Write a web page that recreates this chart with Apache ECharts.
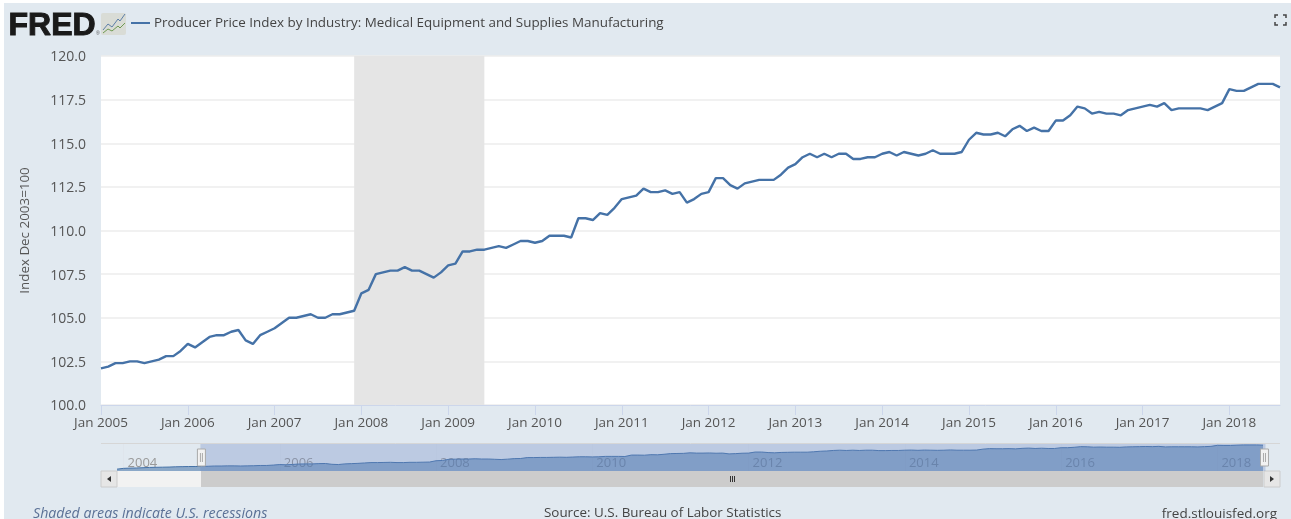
<!DOCTYPE html>
<html>
<head>
<meta charset="utf-8">
<title>Producer Price Index by Industry: Medical Equipment and Supplies Manufacturing</title>
<style>
html, body { margin: 0; padding: 0; background: #fff; overflow: hidden; }
#bg { position: absolute; left: 4px; top: 3px; width: 1287px; height: 516px; background: #e1e9f0; }
#main { position: absolute; left: 0; top: 0; width: 1291px; height: 519px; }
</style>
<script src="https://cdn.jsdelivr.net/npm/echarts@6/dist/echarts.min.js"></script>
</head>
<body>
<div id="bg"></div>
<div id="main"></div>
<script>
var month_names = ["Jan", "Feb", "Mar", "Apr", "May", "Jun", "Jul", "Aug", "Sep", "Oct", "Nov", "Dec"];

// only shown in the navigator, Dec 2003 - Dec 2004
var early_values = [100.0, 100.6, 100.8, 100.9, 101.1, 101.3, 101.4, 101.5, 101.6, 101.8, 101.9, 102.0, 102.0];

// Jan 2005 - Aug 2018, monthly
var ppi_2005 = [102.1, 102.2, 102.4, 102.4, 102.5, 102.5, 102.4, 102.5, 102.6, 102.8, 102.8, 103.1];
var ppi_2006 = [103.5, 103.3, 103.6, 103.9, 104.0, 104.0, 104.2, 104.3, 103.7, 103.5, 104.0, 104.2];
var ppi_2007 = [104.4, 104.7, 105.0, 105.0, 105.1, 105.2, 105.0, 105.0, 105.2, 105.2, 105.3, 105.4];
var ppi_2008 = [106.4, 106.6, 107.5, 107.6, 107.7, 107.7, 107.9, 107.7, 107.7, 107.5, 107.3, 107.6];
var ppi_2009 = [108.0, 108.1, 108.8, 108.8, 108.9, 108.9, 109.0, 109.1, 109.0, 109.2, 109.4, 109.4];
var ppi_2010 = [109.3, 109.4, 109.7, 109.7, 109.7, 109.6, 110.7, 110.7, 110.6, 111.0, 110.9, 111.3];
var ppi_2011 = [111.8, 111.9, 112.0, 112.4, 112.2, 112.2, 112.3, 112.1, 112.2, 111.6, 111.8, 112.1];
var ppi_2012 = [112.2, 113.0, 113.0, 112.6, 112.4, 112.7, 112.8, 112.9, 112.9, 112.9, 113.2, 113.6];
var ppi_2013 = [113.8, 114.2, 114.4, 114.2, 114.4, 114.2, 114.4, 114.4, 114.1, 114.1, 114.2, 114.2];
var ppi_2014 = [114.4, 114.5, 114.3, 114.5, 114.4, 114.3, 114.4, 114.6, 114.4, 114.4, 114.4, 114.5];
var ppi_2015 = [115.2, 115.6, 115.5, 115.5, 115.6, 115.4, 115.8, 116.0, 115.7, 115.9, 115.7, 115.7];
var ppi_2016 = [116.3, 116.3, 116.6, 117.1, 117.0, 116.7, 116.8, 116.7, 116.7, 116.6, 116.9, 117.0];
var ppi_2017 = [117.1, 117.2, 117.1, 117.3, 116.9, 117.0, 117.0, 117.0, 117.0, 116.9, 117.1, 117.3];
var ppi_2018 = [118.1, 118.0, 118.0, 118.2, 118.4, 118.4, 118.4, 118.2];

var ppi_values = early_values.concat(ppi_2005, ppi_2006, ppi_2007, ppi_2008, ppi_2009, ppi_2010, ppi_2011,
    ppi_2012, ppi_2013, ppi_2014, ppi_2015, ppi_2016, ppi_2017, ppi_2018);

// category labels, "Dec 2003" onwards
var months = [];
for (var i = 0; i < ppi_values.length; i++) {
    var m = (i + 11) % 12;
    var y = 2003 + Math.floor((i + 11) / 12);
    months.push(month_names[m] + " " + y);
}

var view_start = "Jan 2005";
var view_end = "Aug 2018";
var recession = ["Dec 2007", "Jun 2009"];

var y_min = 100, y_max = 120, y_step = 2.5;
var nav_min = 98.6, nav_max = 119.1;

var font = '"Open Sans", sans-serif';
var is_jan = function (index, value) { return value.indexOf("Jan") === 0; };
var is_even_jan = function (index, value) {
    return value.indexOf("Jan") === 0 && parseInt(value.slice(4)) % 2 === 0;
};

var chart = echarts.init(document.getElementById("main"));

var option = {
    animation: false,
    grid: [
        { left: 101, right: 11, top: 56, height: 349, show: true, backgroundColor: "#fff", borderWidth: 0 },
        { left: 117, width: 1146, top: 444, height: 27 }
    ],
    xAxis: [
        {
            type: "category",
            gridIndex: 0,
            data: months,
            boundaryGap: false,
            axisLine: { lineStyle: { color: "#ccd6eb" } },
            axisTick: { length: 10, interval: is_jan, lineStyle: { color: "#ccd6eb" } },
            axisLabel: { interval: is_jan, margin: 11, color: "#555", fontFamily: font, fontSize: 13.5, showMinLabel: true },
            splitLine: { show: false }
        },
        {
            // year labels of the navigator
            type: "category",
            gridIndex: 1,
            data: months,
            boundaryGap: false,
            axisLine: { show: false },
            axisTick: { show: false },
            axisLabel: {
                interval: is_even_jan,
                inside: true,
                margin: 1,
                align: "left",
                padding: [0, 0, 0, 4],
                color: "#999",
                fontFamily: font,
                fontSize: 13,
                formatter: function (value) { return value.slice(4); }
            },
            splitLine: { show: true, interval: is_even_jan, lineStyle: { color: "#dfe5ec" } }
        }
    ],
    yAxis: [
        {
            type: "value",
            gridIndex: 0,
            min: y_min,
            max: y_max,
            interval: y_step,
            axisLine: { show: false },
            axisTick: { show: false },
            axisLabel: {
                margin: 15,
                formatter: function (v) { return "{t|" + v.toFixed(1) + "}"; },
                rich: {
                    t: { color: "#555", fontFamily: font, fontSize: 14, padding: [3, 0, 0, 0] }
                }
            },
            splitLine: { lineStyle: { color: "#ececec", width: 1.5 } },
            name: "Index Dec 2003=100",
            nameLocation: "middle",
            nameRotate: 90,
            nameGap: 69,
            nameTextStyle: { color: "#555", fontFamily: font, fontSize: 13.4 }
        },
        { type: "value", gridIndex: 1, show: false, min: nav_min, max: nav_max }
    ],
    dataZoom: [
        {
            type: "slider",
            xAxisIndex: 0,
            filterMode: "filter",
            startValue: view_start,
            endValue: view_end,
            left: 114.5,
            width: 1150,
            top: 444,
            height: 27,
            backgroundColor: "transparent",
            borderColor: "transparent",
            fillerColor: "rgba(102,133,194,0.3)",
            showDetail: false,
            showDataShadow: false,
            brushSelect: false,
            moveHandleSize: 0,
            handleIcon: "path://M0,0 H8 V17 H0 Z M3,4 V13 M5,4 V13",
            handleSize: 17,
            handleStyle: { color: "#f2f2f2", borderColor: "#aaa", borderWidth: 1 }
        }
    ],
    series: [
        {
            name: "Producer Price Index by Industry: Medical Equipment and Supplies Manufacturing",
            type: "line",
            xAxisIndex: 0,
            yAxisIndex: 0,
            data: ppi_values,
            showSymbol: false,
            lineStyle: { color: "#4572a7", width: 2.4 },
            itemStyle: { color: "#4572a7" },
            z: 3,
            markArea: {
                silent: true,
                itemStyle: { color: "#e5e5e5" },
                data: [[{ xAxis: recession[0] }, { xAxis: recession[1] }]]
            }
        },
        {
            // navigator
            type: "line",
            xAxisIndex: 1,
            yAxisIndex: 1,
            data: ppi_values,
            showSymbol: false,
            silent: true,
            lineStyle: { color: "#4572a7", width: 1 },
            areaStyle: { color: "#4572a7", opacity: 0.55 }
        }
    ],
    graphic: [
        // logo
        { type: "text", left: 8, top: 10, style: { text: "FRED", fill: "#1a1a1a", stroke: "#1a1a1a", lineWidth: 1, font: '900 32px "Liberation Sans", sans-serif' } },
        { type: "text", left: 96, top: 31, style: { text: "®", fill: "#555", font: '5px "Liberation Sans", sans-serif' } },
        { type: "rect", shape: { x: 101, y: 13, width: 25, height: 22, r: 2 }, style: { fill: "#d9dcd6" } },
        { type: "polyline", shape: { points: [[103, 30], [108, 24], [112, 27], [118, 19], [120, 21], [125, 14]] }, style: { stroke: "#5d7fa8", fill: null, lineWidth: 1 } },
        { type: "polyline", shape: { points: [[103, 33], [108, 29], [112, 31], [118, 26], [120, 28], [125, 23]] }, style: { stroke: "#6f9a52", fill: null, lineWidth: 1 } },

        // legend
        { type: "line", shape: { x1: 131, y1: 23, x2: 150, y2: 23 }, style: { stroke: "#4572a7", lineWidth: 2 } },
        { type: "text", left: 154, top: 17, style: { text: "Producer Price Index by Industry: Medical Equipment and Supplies Manufacturing", fill: "#444", font: "13.42px " + font } },

        // fullscreen icon
        { type: "polyline", shape: { points: [[1275, 18], [1275, 15], [1278, 15]] }, style: { stroke: "#444", fill: null, lineWidth: 1.5 } },
        { type: "polyline", shape: { points: [[1283, 15], [1286, 15], [1286, 18]] }, style: { stroke: "#444", fill: null, lineWidth: 1.5 } },
        { type: "polyline", shape: { points: [[1275, 22], [1275, 25], [1278, 25]] }, style: { stroke: "#444", fill: null, lineWidth: 1.5 } },
        { type: "polyline", shape: { points: [[1283, 25], [1286, 25], [1286, 22]] }, style: { stroke: "#444", fill: null, lineWidth: 1.5 } },

        // navigator top line and scrollbar
        { type: "line", shape: { x1: 101, y1: 443.5, x2: 1280, y2: 443.5 }, style: { stroke: "#d6d6d6", lineWidth: 1 } },
        { type: "rect", shape: { x: 117, y: 471, width: 84, height: 16 }, style: { fill: "#f2f2f2" } },
        { type: "rect", shape: { x: 201, y: 471, width: 1062, height: 16 }, style: { fill: "#cccccc" } },
        { type: "rect", shape: { x: 101, y: 471, width: 16, height: 16 }, style: { fill: "#e6e6e6", stroke: "#cccccc", lineWidth: 1 } },
        { type: "rect", shape: { x: 1264, y: 471, width: 16, height: 16 }, style: { fill: "#e6e6e6", stroke: "#cccccc", lineWidth: 1 } },
        { type: "polygon", shape: { points: [[111, 476], [111, 482], [107, 479]] }, style: { fill: "#333" } },
        { type: "polygon", shape: { points: [[1270, 476], [1270, 482], [1274, 479]] }, style: { fill: "#333" } },
        { type: "line", shape: { x1: 730.5, y1: 476, x2: 730.5, y2: 482 }, style: { stroke: "#333", lineWidth: 1 } },
        { type: "line", shape: { x1: 732.5, y1: 476, x2: 732.5, y2: 482 }, style: { stroke: "#333", lineWidth: 1 } },
        { type: "line", shape: { x1: 734.5, y1: 476, x2: 734.5, y2: 482 }, style: { stroke: "#333", lineWidth: 1 } },

        // footer
        { type: "text", left: 33, top: 507, style: { text: "Shaded areas indicate U.S. recessions", fill: "#5b7196", font: "italic 14.2px " + font } },
        { type: "text", left: 544, top: 507, style: { text: "Source: U.S. Bureau of Labor Statistics", fill: "#444", font: "13.4px " + font } },
        { type: "text", right: 14, top: 507, style: { text: "fred.stlouisfed.org", fill: "#444", font: "13.5px " + font } }
    ]
};

chart.setOption(option);
</script>
</body>
</html>
